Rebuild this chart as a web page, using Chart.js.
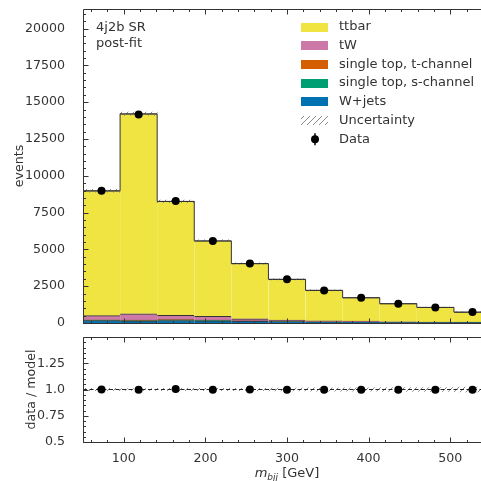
<!DOCTYPE html>
<html>
<head>
<meta charset="utf-8">
<script src="https://cdn.jsdelivr.net/npm/chart.js@4.4.1/dist/chart.umd.min.js"></script>
<style>
  html, body { margin: 0; padding: 0; background: #fff; overflow: hidden; }
  canvas { display: block; }
</style>
</head>
<body>
<canvas id="main" width="500" height="330"></canvas>
<canvas id="ratio" width="500" height="151"></canvas>
<script>
// binning of m_bjj [GeV]
const binEdges = [50, 95.45, 140.91, 186.36, 231.82, 277.27, 322.73, 368.18, 413.64, 459.09, 504.55, 550];
const binCenters = [72.7, 118.2, 163.6, 209.1, 254.5, 300.0, 345.5, 390.9, 436.4, 481.8, 527.3];

// post-fit model (stack, bottom to top)
const wjets = [170, 140, 170, 150, 110, 80, 60, 50, 35, 30, 25];
const stopS = [15, 15, 20, 15, 10, 8, 6, 5, 4, 3, 2];
const stopT = [35, 40, 40, 30, 20, 15, 12, 10, 8, 6, 5];
const tW = [280, 430, 290, 250, 150, 100, 75, 65, 40, 30, 25];
const ttbar = [8485, 13585, 7740, 5135, 3750, 2767, 2067, 1590, 1228, 991, 688];
const relUnc = [0.010, 0.008, 0.010, 0.011, 0.012, 0.013, 0.015, 0.016, 0.018, 0.019, 0.022];

// observed
const data = [8990, 14170, 8290, 5570, 4035, 2965, 2215, 1716, 1311, 1058, 743];
const ratio = [1.001, 0.997, 1.004, 0.998, 0.999, 0.998, 0.998, 0.998, 0.997, 0.998, 0.997];

// ticks
const xTicks = [100, 200, 300, 400, 500];
const yTicks = [0, 2500, 5000, 7500, 10000, 12500, 15000, 17500, 20000];
const rTicks = [0.5, 0.75, 1.0, 1.25];
const rTickLabels = ["0.5", "0.75", "1.0", "1.25"];

const legendLabels = ["ttbar", "tW", "single top, t-channel", "single top, s-channel", "W+jets", "Uncertainty", "Data"];

const colors = {
  ttbar: "#f0e442",
  tW: "#cc79a7",
  stopT: "#d55e00",
  stopS: "#009e73",
  wjets: "#0072b2",
};

const FONT = "'DejaVu Sans', sans-serif";
const TXT = "#333";
const EDGE = "#333";

function hatch() {
  const c = document.createElement("canvas");
  c.width = 6;
  c.height = 6;
  const g = c.getContext("2d");
  g.strokeStyle = "#8a8a8a";
  g.lineWidth = 1;
  g.beginPath();
  g.moveTo(0, 6); g.lineTo(6, 0);
  g.moveTo(-1, 1); g.lineTo(1, -1);
  g.moveTo(5, 7); g.lineTo(7, 5);
  g.stroke();
  return g.createPattern(c, "repeat");
}
const hatchFill = hatch();

const totals = ttbar.map((v, i) => v + tW[i] + stopT[i] + stopS[i] + wjets[i]);
const outline = [{ x: binEdges[0], y: 0 }]
  .concat(totals.map((v, i) => ({ x: binEdges[i], y: v })))
  .concat([{ x: binEdges[binEdges.length - 1], y: totals[totals.length - 1] }]);

function xy(arr) {
  return arr.map((v, i) => ({ x: binCenters[i], y: v }));
}

function stackBar(label, arr, color) {
  return {
    type: "bar",
    label: label,
    data: xy(arr),
    backgroundColor: color,
    borderColor: EDGE,
    borderWidth: { top: 1, right: 0, bottom: 0, left: 0 },
    borderSkipped: false,
    barPercentage: 1,
    categoryPercentage: 1,
    stack: "mc",
    order: 5,
  };
}

function minors(from, to, step) {
  const out = [];
  for (let v = from; v <= to + 1e-9; v += step) out.push(Math.round(v * 1000) / 1000);
  return out;
}

// fixed axis box, no extra padding from the tick labels
function fixWidth(w) {
  return (s) => { s.width = w; s.paddingTop = 0; s.paddingBottom = 0; };
}
function fixHeight(h) {
  return (s) => { s.height = h; s.paddingLeft = 0; s.paddingRight = 0; };
}

// inward ticks on all sides + frame
function frameTicks(xMajor, xMinor, yMajor, yMinor) {
  return {
    id: "frameTicks",
    afterDatasetsDraw(chart) {
      const { ctx, chartArea: a, scales } = chart;
      const L = Math.round(a.left) + 0.5, R = Math.round(a.right) + 0.5;
      const T = Math.round(a.top) + 0.5, B = Math.round(a.bottom) + 0.5;
      ctx.save();
      ctx.strokeStyle = EDGE;
      ctx.lineWidth = 1;
      ctx.beginPath();
      const tick = (vals, len, axis) => {
        vals.forEach((v) => {
          if (axis === "x") {
            const p = Math.round(scales.x.getPixelForValue(v)) + 0.5;
            if (p < L || p > R) return;
            ctx.moveTo(p, B); ctx.lineTo(p, B - len);
            ctx.moveTo(p, T); ctx.lineTo(p, T + len);
          } else {
            const p = Math.round(scales.y.getPixelForValue(v)) + 0.5;
            if (p < T - 1 || p > B + 1) return;
            ctx.moveTo(L, p); ctx.lineTo(L + len, p);
            ctx.moveTo(R, p); ctx.lineTo(R - len, p);
          }
        });
      };
      tick(xMajor, 5, "x");
      tick(xMinor, 2.5, "x");
      tick(yMajor, 5, "y");
      tick(yMinor, 2.5, "y");
      ctx.moveTo(L, T); ctx.lineTo(R, T); ctx.lineTo(R, B); ctx.lineTo(L, B); ctx.closePath();
      ctx.stroke();
      ctx.restore();
    },
  };
}

const annotations = {
  id: "annotations",
  afterDraw(chart) {
    const ctx = chart.ctx;
    ctx.save();
    ctx.fillStyle = TXT;
    ctx.font = "13px " + FONT;
    ctx.textBaseline = "middle";
    ctx.fillText("4j2b SR", 96, 28);
    ctx.fillText("post-fit", 96, 44);

    // legend
    const fills = [colors.ttbar, colors.tW, colors.stopT, colors.stopS, colors.wjets];
    legendLabels.forEach((label, i) => {
      const y = 27 + i * 18.7;
      if (i < fills.length) {
        ctx.fillStyle = fills[i];
        ctx.fillRect(301, Math.round(y - 4.5), 27, 9);
      } else if (label === "Uncertainty") {
        ctx.fillStyle = hatchFill;
        ctx.fillRect(301, Math.round(y - 4.5), 27, 9);
      } else {
        ctx.fillStyle = "#000";
        ctx.strokeStyle = "#000";
        ctx.lineWidth = 1.5;
        ctx.beginPath();
        ctx.moveTo(315, y - 6); ctx.lineTo(315, y + 6);
        ctx.stroke();
        ctx.beginPath();
        ctx.arc(315, y, 4, 0, Math.PI * 2);
        ctx.fill();
      }
      ctx.fillStyle = TXT;
      ctx.fillText(label, 339, y);
    });
    ctx.restore();
  },
};

new Chart(document.getElementById("main"), {
  type: "bar",
  data: {
    datasets: [
      {
        type: "scatter",
        label: "Data",
        data: xy(data),
        pointRadius: 4,
        pointBackgroundColor: "#000",
        pointBorderWidth: 0,
        stack: "data",
        order: 0,
      },
      {
        type: "line",
        label: "outline",
        data: outline,
        stepped: true,
        borderColor: EDGE,
        borderWidth: 1,
        pointRadius: 0,
        fill: false,
        stack: "outline",
        order: 1,
      },
      {
        type: "bar",
        label: "Uncertainty",
        data: totals.map((v, i) => ({ x: binCenters[i], y: [v * (1 - relUnc[i]), v * (1 + relUnc[i])] })),
        backgroundColor: hatchFill,
        borderWidth: 0,
        barPercentage: 1,
        categoryPercentage: 1,
        grouped: false,
        stack: "unc",
        order: 2,
      },
      stackBar("W+jets", wjets, colors.wjets),
      stackBar("single top, s-channel", stopS, colors.stopS),
      stackBar("single top, t-channel", stopT, colors.stopT),
      stackBar("tW", tW, colors.tW),
      stackBar("ttbar", ttbar, colors.ttbar),
    ],
  },
  options: {
    responsive: false,
    animation: false,
    layout: { padding: { top: 9, right: 9, bottom: 7, left: 0 } },
    plugins: { legend: { display: false }, tooltip: { enabled: false } },
    scales: {
      x: { type: "linear", min: 50, max: 550, offset: false, stacked: true, display: false },
      y: {
        stacked: true,
        min: 0,
        max: 21330,
        grid: { display: false },
        border: { display: false },
        afterBuildTicks: (s) => { s.ticks = yTicks.map((v) => ({ value: v })); },
        afterFit: fixWidth(83),
        ticks: {
          padding: 10,
          color: TXT,
          font: { family: FONT, size: 12.6 },
          callback: (v) => String(v),
        },
        title: {
          display: true,
          text: "events",
          color: TXT,
          font: { family: FONT, size: 12.6 },
          padding: { top: 12, bottom: 0 },
        },
      },
    },
  },
  plugins: [frameTicks(xTicks, minors(60, 540, 20), yTicks, minors(0, 21000, 500)), annotations],
});

const xTitle = {
  id: "xTitle",
  afterDraw(chart) {
    const ctx = chart.ctx;
    const cx = (chart.chartArea.left + chart.chartArea.right) / 2;
    const y = 147;
    ctx.save();
    ctx.fillStyle = TXT;
    ctx.textBaseline = "alphabetic";
    const f1 = "italic 13px " + FONT, f2 = "italic 9px " + FONT, f3 = "13px " + FONT;
    ctx.font = f1; const w1 = ctx.measureText("m").width;
    ctx.font = f2; const w2 = ctx.measureText("bjj").width;
    ctx.font = f3; const w3 = ctx.measureText(" [GeV]").width;
    let x = cx - (w1 + w2 + w3) / 2;
    ctx.font = f1; ctx.fillText("m", x, y); x += w1;
    ctx.font = f2; ctx.fillText("bjj", x, y + 3); x += w2;
    ctx.font = f3; ctx.fillText(" [GeV]", x, y);
    ctx.restore();
  },
};

new Chart(document.getElementById("ratio"), {
  type: "bar",
  data: {
    datasets: [
      {
        type: "scatter",
        label: "Data",
        data: xy(ratio),
        pointRadius: 4,
        pointBackgroundColor: "#000",
        pointBorderWidth: 0,
        order: 0,
      },
      {
        type: "line",
        label: "nominal",
        data: [{ x: 50, y: 1 }, { x: 550, y: 1 }],
        borderColor: "#222",
        borderWidth: 1,
        borderDash: [4, 2.5],
        pointRadius: 0,
        order: 1,
      },
      {
        type: "bar",
        label: "Uncertainty",
        data: relUnc.map((u, i) => ({ x: binCenters[i], y: [1 - u, 1 + u] })),
        backgroundColor: hatchFill,
        borderWidth: 0,
        barPercentage: 1,
        categoryPercentage: 1,
        order: 2,
      },
    ],
  },
  options: {
    responsive: false,
    animation: false,
    layout: { padding: { top: 7, right: 9, bottom: 0, left: 0 } },
    plugins: { legend: { display: false }, tooltip: { enabled: false } },
    scales: {
      x: {
        type: "linear",
        min: 50,
        max: 550,
        offset: false,
        grid: { display: false },
        border: { display: false },
        afterBuildTicks: (s) => { s.ticks = xTicks.map((v) => ({ value: v })); },
        afterFit: fixHeight(39),
        ticks: {
          padding: 1,
          maxRotation: 0,
          color: TXT,
          font: { family: FONT, size: 12.6 },
          callback: (v) => String(v),
        },
      },
      y: {
        min: 0.5,
        max: 1.5,
        grid: { display: false },
        border: { display: false },
        afterBuildTicks: (s) => { s.ticks = rTicks.map((v) => ({ value: v })); },
        afterFit: fixWidth(83),
        ticks: {
          padding: 10,
          color: TXT,
          font: { family: FONT, size: 12.6 },
          callback: (v) => rTickLabels[rTicks.indexOf(v)],
        },
        title: {
          display: true,
          text: "data / model",
          color: TXT,
          font: { family: FONT, size: 12.6 },
          padding: { top: 24, bottom: 0 },
        },
      },
    },
  },
  plugins: [frameTicks(xTicks, minors(60, 540, 20), rTicks, minors(0.5, 1.5, 0.05)), xTitle],
});
</script>
</body>
</html>
